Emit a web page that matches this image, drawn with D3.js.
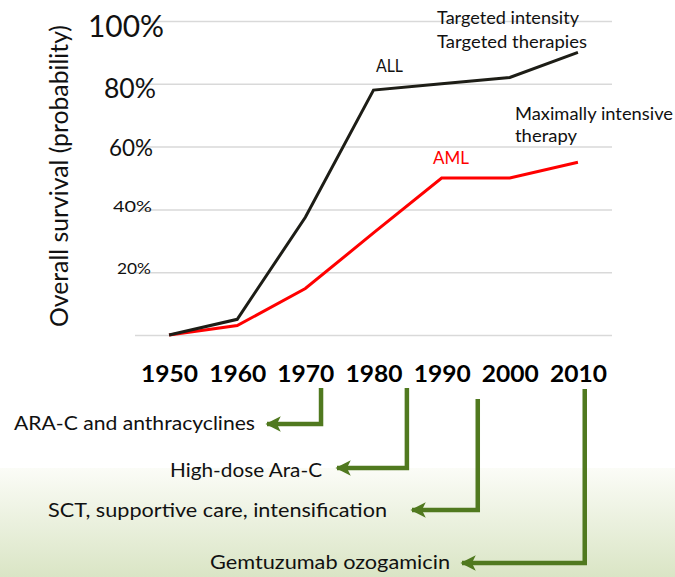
<!DOCTYPE html>
<html><head><meta charset="utf-8">
<script src="https://cdn.jsdelivr.net/npm/d3@7"></script>
<style>
html,body{margin:0;padding:0;background:#fff;}
svg{display:block;font-family:Lato,"Open Sans",sans-serif;}
</style></head>
<body>
<svg id="chart" width="675" height="577"></svg>
<script>
// ---- data ----
const years = [1950, 1960, 1970, 1980, 1990, 2000, 2010];
const allSurvival = [0, 0.05, 0.375, 0.78, 0.80, 0.82, 0.90];
const amlSurvival = [0, 0.03, 0.148, 0.325, 0.50, 0.50, 0.55];
const gridValues = [0, 0.2, 0.4, 0.6, 0.8, 1.0];
const yTickValues = [1.0, 0.8, 0.6, 0.4, 0.2];
const yTickLabels = ["100%", "80%", "60%", "40%", "20%"];
const milestoneYears = [1972.3, 1984.9, 1995.3, 2011.0];
const milestoneLabels = ["ARA-C and anthracyclines", "High-dose Ara-C",
  "SCT, supportive care, intensification", "Gemtuzumab ozogamicin"];
const yTitle = "Overall survival (probability)";

// ---- layout / style ----
const W = 675, H = 577;
const CAP = 0.7165; // Lato cap-height ratio
const plot = {left: 135, right: 612, top: 21, bottom: 335};
const tickStyle = [ // right edge, baseline offset from gridline, target width, cap height
  {xr: 164, dy: 16, w: 76, cap: 22}, {xr: 156, dy: 14, w: 52, cap: 19},
  {xr: 153, dy: 9, w: 44, cap: 16.7}, {xr: 152, dy: 3, w: 39, cap: 11.6},
  {xr: 151, dy: 1.5, w: 34, cap: 11.6}];
const milestoneLayout = [ // top of riser, elbow y, arrow tip x, label right x, label baseline, width
  {top: 388, elbow: 424, tip: 267, textRight: 255, base: 430, w: 241},
  {top: 388, elbow: 468, tip: 337, textRight: 322, base: 477, w: 152},
  {top: 399, elbow: 510, tip: 412, textRight: 387, base: 517, w: 339},
  {top: 389, elbow: 563, tip: 462, textRight: 450, base: 569, w: 240}];
const green = "#50791f";

const svg = d3.select("#chart");

function styleText(sel, cap, width) {
  sel.style("font-size", (cap / CAP).toFixed(2) + "px");
  if (width) sel.attr("textLength", width).attr("lengthAdjust", "spacingAndGlyphs");
  return sel;
}

// background gradient
const defs = svg.append("defs");
const grad = defs.append("linearGradient").attr("id", "bg").attr("x1", 0).attr("y1", 0).attr("x2", 0).attr("y2", 1);
grad.append("stop").attr("offset", "0%").attr("stop-color", "#fbfcf7");
grad.append("stop").attr("offset", "100%").attr("stop-color", "#dae5c5");
svg.append("rect").attr("x", 0).attr("y", 468).attr("width", W).attr("height", H - 468).attr("fill", "url(#bg)");

// arrowhead marker
defs.append("marker").attr("id", "head").attr("viewBox", "0 0 10 10")
  .attr("refX", 9).attr("refY", 5).attr("markerWidth", 3.4).attr("markerHeight", 3.4)
  .attr("markerUnits", "strokeWidth").attr("orient", "auto")
  .append("path").attr("d", "M0,0 L10,5 L0,10 L2.5,5 Z").attr("fill", green);

// scales
const x = d3.scalePoint().domain(years).range([plot.left, plot.right]).padding(0.5);
const y = d3.scaleLinear().domain([0, 1]).range([plot.bottom, plot.top]);
const xYear = d3.scaleLinear().domain([years[0], years[years.length - 1]])
  .range([x(years[0]), x(years[years.length - 1])]);

// gridlines via axis
const grid = svg.append("g").attr("transform", `translate(${plot.left},0)`)
  .call(d3.axisLeft(y).tickValues(gridValues).tickSize(-(plot.right - plot.left)).tickFormat(""));
grid.select(".domain").remove();
grid.selectAll(".tick line").attr("stroke", "#d9d9d9").attr("stroke-width", 1.5);

// y tick labels
yTickValues.forEach((v, i) => {
  const s = tickStyle[i];
  const t = svg.append("text").attr("x", s.xr).attr("y", y(v) + s.dy)
    .attr("text-anchor", "end").attr("fill", "#111").text(yTickLabels[i]);
  styleText(t, s.cap, s.w);
});

// y title
const yt = svg.append("text").attr("transform", "translate(68,176) rotate(-90)")
  .attr("text-anchor", "middle").attr("fill", "#111").text(yTitle);
styleText(yt, 18.3, 302);

// x axis
const xa = svg.append("g").attr("transform", "translate(0,382)")
  .call(d3.axisBottom(x).tickSize(0).tickFormat(d => String(d)));
xa.select(".domain").remove();
xa.selectAll(".tick text").attr("y", 0).attr("dy", null)
  .attr("fill", "#000").style("font-weight", "bold").style("font-family", "Lato,'Open Sans',sans-serif");
xa.selectAll(".tick text").each(function () { styleText(d3.select(this), 17, 57); });

// lines
const line = d3.line().x((d, i) => x(years[i])).y(d => y(d));
svg.append("path").datum(amlSurvival).attr("d", line).attr("fill", "none")
  .attr("stroke", "#ff0000").attr("stroke-width", 3).attr("stroke-linejoin", "miter");
svg.append("path").datum(allSurvival).attr("d", line).attr("fill", "none")
  .attr("stroke", "#1d1d16").attr("stroke-width", 3).attr("stroke-linejoin", "miter");

// annotations
const notes = [
  {t: "Targeted intensity", x: 437, y: 24, w: 142, c: "#111"},
  {t: "Targeted therapies", x: 437, y: 48, w: 150, c: "#111"},
  {t: "ALL", x: 376, y: 72, w: 27, c: "#111"},
  {t: "Maximally intensive", x: 515, y: 120, w: 158, c: "#111"},
  {t: "therapy", x: 515, y: 142, w: 62, c: "#111"},
  {t: "AML", x: 433, y: 164, w: 36, c: "#ff0000"}];
notes.forEach(n => {
  const t = svg.append("text").attr("x", n.x).attr("y", n.y).attr("fill", n.c).text(n.t);
  styleText(t, 12.3, n.w);
});

// milestones
milestoneLabels.forEach((lab, i) => {
  const L = milestoneLayout[i];
  const mx = xYear(milestoneYears[i]);
  svg.append("path").attr("d", `M${mx},${L.top} V${L.elbow} H${L.tip}`)
    .attr("fill", "none").attr("stroke", green).attr("stroke-width", 4.5)
    .attr("stroke-linejoin", "miter").attr("marker-end", "url(#head)");
  const t = svg.append("text").attr("x", L.textRight).attr("y", L.base)
    .attr("text-anchor", "end").attr("fill", "#111").text(lab);
  styleText(t, 14, L.w);
});
</script>
</body></html>
